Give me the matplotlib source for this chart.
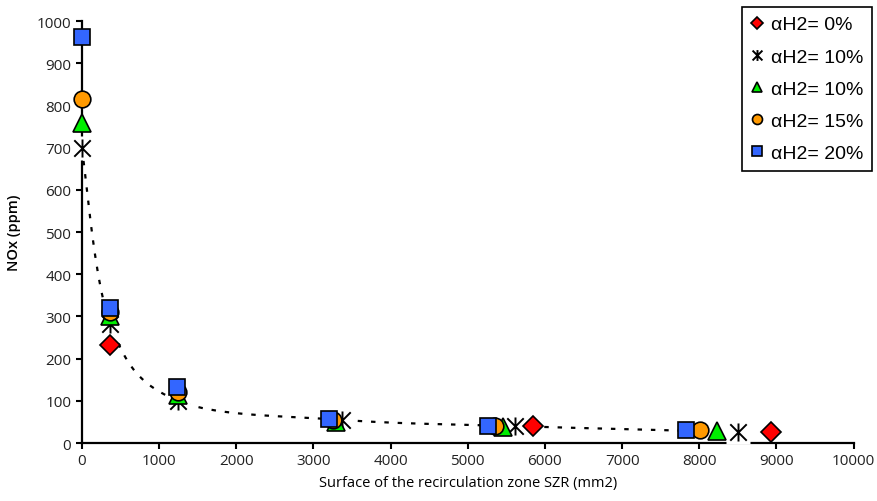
import numpy as np
import matplotlib
matplotlib.use('Agg')
import matplotlib.pyplot as plt
from matplotlib.path import Path

plt.rcParams['font.family'] = ['Open Sans', 'DejaVu Sans']

# data
x_h0 = [370, 5850, 8930]
y_h0 = [232, 40, 25]
x_h10a = [0, 370, 1250, 3370, 5615, 8500]
y_h10a = [700, 282, 100, 55, 40, 26]
x_h10b = [0, 370, 1250, 3300, 5460, 8225]
y_h10b = [758, 302, 114, 50, 38, 29]
x_h15 = [0, 370, 1250, 3250, 5350, 8010]
y_h15 = [815, 310, 120, 54, 41, 31]
x_h20 = [0, 370, 1235, 3205, 5267, 7825]
y_h20 = [963, 320, 132, 56, 41, 31]

labels = ['αH2= 0%', 'αH2= 10%', 'αH2= 10%', 'αH2= 15%', 'αH2= 20%']

# excel "star" marker: X plus a vertical bar
star = Path([(-1, -1), (1, 1), (-1, 1), (1, -1), (0, -1.1), (0, 1.1)],
            [Path.MOVETO, Path.LINETO, Path.MOVETO, Path.LINETO, Path.MOVETO, Path.LINETO])


def smooth(xs, ys, n=40):
    # Excel style smoothed line (bezier, tension 1/6)
    p = np.column_stack([xs, ys]).astype(float)
    p = np.vstack([p[0], p, p[-1]])
    out = []
    t = np.linspace(0, 1, n)[:, None]
    for i in range(1, len(p) - 2):
        p0, p1, p2, p3 = p[i - 1], p[i], p[i + 1], p[i + 2]
        c1 = p1 + (p2 - p0) / 6
        c2 = p2 - (p3 - p1) / 6
        seg = ((1 - t) ** 3) * p1 + 3 * ((1 - t) ** 2) * t * c1 + 3 * (1 - t) * t ** 2 * c2 + t ** 3 * p2
        out.append(seg)
    out = np.vstack(out)
    return out[:, 0], out[:, 1]


fig = plt.figure(figsize=(8.77, 5.02), dpi=100)
ax = fig.add_axes([0.0932, 0.1155, 0.8802, 0.8405])

sx, sy = smooth(x_h10a, y_h10a)
ax.plot(sx, sy, color='black', lw=1.6, linestyle=(0, (2, 4)), zorder=2)

# white box behind the star markers
ax.plot(x_h10a, y_h10a, linestyle='none', marker='s', ms=17, mfc='white', mec='none',
        zorder=3, clip_on=False)
ax.plot(x_h10a, y_h10a, linestyle='none', marker=star, ms=13, mew=1.4, color='black',
        zorder=4, clip_on=False, label=labels[1])
ax.plot(x_h0, y_h0, linestyle='none', marker='D', ms=10, mfc='#ff0000', mec='black', mew=1.2,
        zorder=5, clip_on=False, label=labels[0])
ax.plot(x_h10b, y_h10b, linestyle='none', marker='^', ms=13, mfc='#00ee00', mec='black', mew=1.2,
        zorder=6, clip_on=False, label=labels[2])
ax.plot(x_h15, y_h15, linestyle='none', marker='o', ms=12, mfc='#ff9900', mec='black', mew=1.2,
        zorder=7, clip_on=False, label=labels[3])
ax.plot(x_h20, y_h20, linestyle='none', marker='s', ms=12, mfc='#3366ff', mec='black', mew=1.2,
        zorder=8, clip_on=False, label=labels[4])

ax.set_xlim(0, 10000)
ax.set_ylim(0, 1000)
ax.set_xticks(np.arange(0, 10001, 1000))
ax.set_yticks(np.arange(0, 1001, 100))
for s in ['top', 'right']:
    ax.spines[s].set_visible(False)
for s in ['left', 'bottom']:
    ax.spines[s].set_linewidth(1.6)
ax.tick_params(direction='out', length=4, width=1.5, labelsize=11, colors='black',
               labelcolor='#222222')
ax.set_xlabel('Surface of the recirculation zone SZR (mm2)', fontsize=10.5, labelpad=5)
ax.set_ylabel('NOx (ppm)', fontsize=10.5, fontweight='semibold', labelpad=11)

h, l = ax.get_legend_handles_labels()
order = [1, 0, 2, 3, 4]
leg = ax.legend([h[i] for i in order], [l[i] for i in order], loc='upper right',
                bbox_to_anchor=(0.9945, 0.984), bbox_transform=fig.transFigure,
                prop={'family': 'Liberation Sans', 'size': 14}, markerscale=0.6,
                handlelength=0.7, handletextpad=0.35, labelspacing=0.75, borderpad=0.45,
                borderaxespad=0, fancybox=False, edgecolor='black', framealpha=1)
leg.get_frame().set_linewidth(1.2)

fig.savefig('out.png', dpi=100)
